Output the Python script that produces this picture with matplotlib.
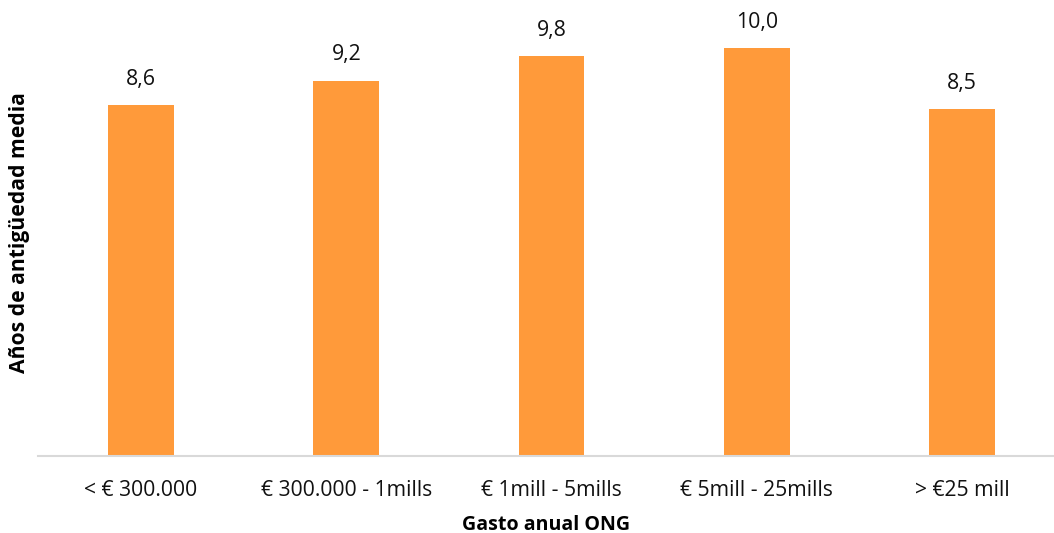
import matplotlib
matplotlib.use("Agg")
from matplotlib import pyplot

categories = [
    "< € 300.000",
    "€ 300.000 - 1mills",
    "€ 1mill - 5mills",
    "€ 5mill - 25mills",
    "> €25 mill",
]
antiguedad = [8.6, 9.2, 9.8, 10.0, 8.5]

pyplot.rcParams["font.family"] = ["Open Sans", "DejaVu Sans"]

fig = pyplot.figure(figsize=(10.54, 5.33), dpi=100)
ax = fig.add_axes([38 / 1054, 1 - 456 / 533, 1 - 38 / 1054, 456 / 533])

x = list(range(len(categories)))
bars = ax.bar(x, antiguedad, width=0.32, color="#FF9A3A", zorder=2)
for rect, value in zip(bars, antiguedad):
    ax.annotate(
        f"{value:.1f}".replace(".", ","),
        (rect.get_x() + rect.get_width() / 2, rect.get_height()),
        xytext=(0, 11),
        textcoords="offset points",
        ha="center",
        va="bottom",
        fontsize=15.3,
        color="#111111",
    )

ax.set_xlim(-0.502, 4.448)
ax.set_ylim(0, 456 / 40.8)
ax.set_xticks(x)
ax.set_xticklabels(categories, fontsize=15.2, color="#111111")
ax.set_yticks([])
ax.tick_params(axis="x", length=0, pad=17)

for side in ("top", "right", "left"):
    ax.spines[side].set_visible(False)
ax.spines["bottom"].set_color("#D9D9D9")
ax.spines["bottom"].set_linewidth(1.5)

ax.set_xlabel("Gasto anual ONG", fontsize=14.1, fontweight="bold", labelpad=10)
fig.text(
    20 / 1054, 1 - 233 / 533,
    "Años de antigüedad media",
    rotation=90, ha="center", va="center",
    fontsize=15.2, fontweight="bold",
)

fig.savefig("out.png", dpi=100)
